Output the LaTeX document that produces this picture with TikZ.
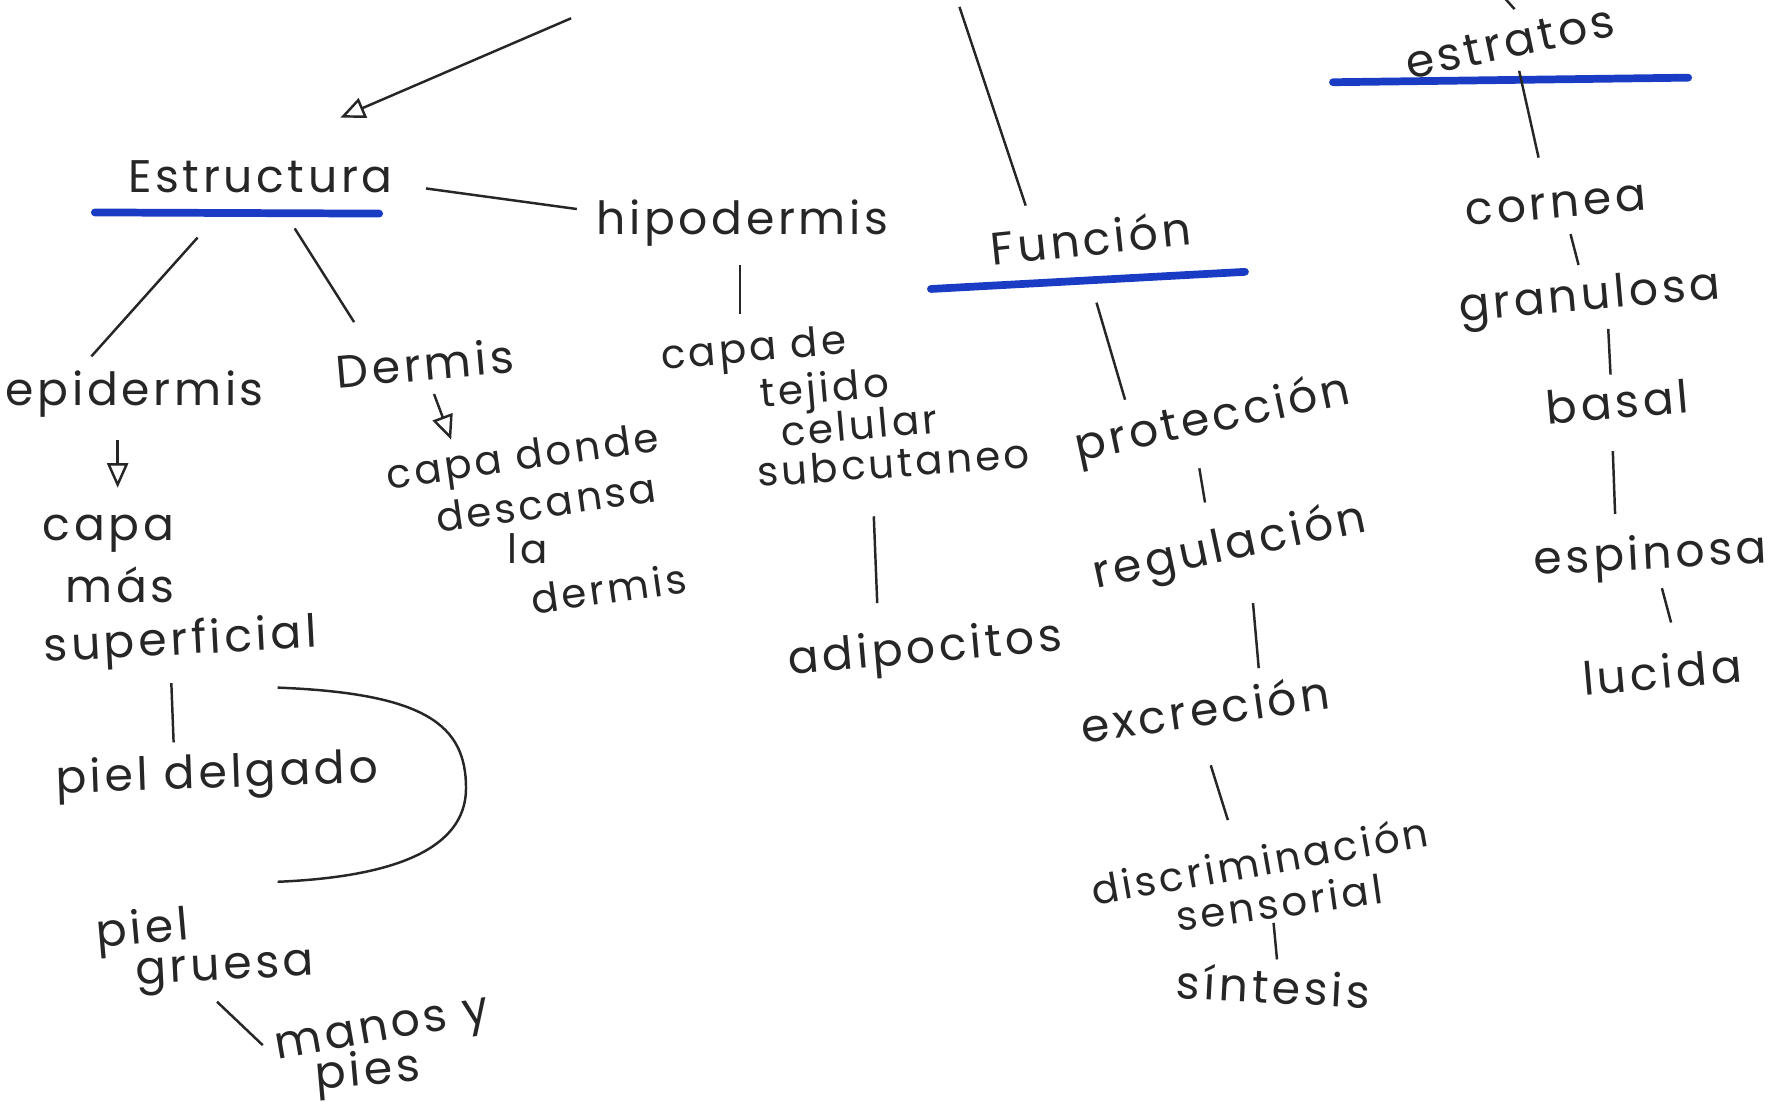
\documentclass[tikz,border=0pt]{standalone}
\usepackage{fontspec}
\setmainfont{Poppins}[LetterSpace=8]
\usetikzlibrary{calc,arrows.meta}
\definecolor{pen}{RGB}{38,38,38}
\definecolor{marker}{RGB}{26,60,196}
\tikzset{>={Triangle[open,length=7pt,width=6pt]}}
\tikzset{word/.style={text=pen,font=\fontsize{13}{15}\selectfont,inner sep=1pt},
  small/.style={word,font=\fontsize{11.5}{13}\selectfont},
  link/.style={draw=pen,line width=.7pt},
  under/.style={draw=marker,line width=2.2pt,line cap=round}}

\begin{document}
\begin{tikzpicture}[x=0.011422cm,y=-0.011422cm]
\useasboundingbox[fill=white] (0,0) rectangle (1568,964);
\coordinate (topA) at (500,16);
\coordinate (topF) at (840,6);
\coordinate (topE) at (1317,-2);
\node[word] (estr) at (228,155) {Estructura};
\node[word] (hipo) at (650,195) {hipodermis};
\node[word,rotate=6] (func) at (955,208) {Función};
\node[word,rotate=12] (estra) at (1322,37) {estratos};
\node[word,rotate=5] (cornea) at (1362,180) {cornea};
\node[word,rotate=5] (granu) at (1392,262) {granulosa};
\node[word,rotate=5] (basal) at (1416,352) {basal};
\node[word,rotate=3] (espin) at (1445,488) {espinosa};
\node[word,rotate=5] (lucida) at (1455,588) {lucida};
\node[word] (epid) at (118,345) {epidermis};
\node[word] (ep1) at (95,467) {capa};
\node[word] (ep2) at (105,512) {más};
\node[word,rotate=3] (ep3) at (158,563) {superficial};
\node[word,rotate=2] (delg) at (190,680) {piel delgado};
\node[word,rotate=5] (gr1) at (125,816) {piel};
\node[word,rotate=3] (gr2) at (197,852) {gruesa};
\node[word,rotate=10] (mp1) at (335,905) {manos y};
\node[word,rotate=5] (mp2) at (322,940) {pies};
\node[word,rotate=5] (dermis) at (372,318) {Dermis};
\node[small,rotate=8] (dn1) at (458,403) {capa donde};
\node[small,rotate=8] (dn2) at (478,440) {descansa};
\node[small] (dn3) at (462,480) {la};
\node[small,rotate=8] (dn4) at (533,515) {dermis};
\node[small,rotate=5] (hp1) at (660,308) {capa de};
\node[small,rotate=5] (hp2) at (722,343) {tejido};
\node[small,rotate=5] (hp3) at (752,372) {celular};
\node[small,rotate=4] (hp4) at (782,405) {subcutaneo};
\node[word,rotate=5] (adip) at (810,570) {adipocitos};
\node[word,rotate=12] (prot) at (1062,368) {protección};
\node[word,rotate=12] (regu) at (1077,480) {regulación};
\node[word,rotate=8] (excr) at (1055,620) {excreción};
\node[small,rotate=10] (ds1) at (1103,753) {discriminación};
\node[small,rotate=8] (ds2) at (1120,790) {sensorial};
\node[word,rotate=-3] (sint) at (1115,863) {síntesis};
\draw[under] ([shift={(-145,31)}]estr.center) -- ([shift={(104,32)}]estr.center);
\draw[under] ([shift={(-140,45)}]func.center) -- ([shift={(135,30)}]func.center);
\draw[under] ([shift={(-155,35)}]estra.center) -- ([shift={(156,31)}]estra.center);
\draw[link,->] (topA) -- ([shift={(70,-52)}]estr.center);
\draw[link] ([shift={(145,10)}]estr.center) -- ([shift={(-145,-12)}]hipo.center);
\draw[link] ([shift={(-55,53)}]estr.center) -- ([shift={(-38,-33)}]epid.center);
\draw[link] ([shift={(30,45)}]estr.center) -- ([shift={(-62,-36)}]dermis.center);
\draw[link,->] ([shift={(-15,40)}]epid.center) -- ([shift={(8,-40)}]ep1.center);
\draw[link,->] ([shift={(8,27)}]dermis.center) -- ([shift={(-63,-18)}]dn1.center);
\draw[link] ([shift={(-8,35)}]ep3.center) -- ([shift={(-38,-30)}]delg.center);
\draw[link] ([shift={(53,-78)}]delg.center) .. controls +(130,5) and +(0,-55) .. ([shift={(218,10)}]delg.center)
  .. controls +(0,45) and +(120,-5) .. ([shift={(53,92)}]delg.center);
\draw[link] ([shift={(-7,25)}]gr2.center) -- ([shift={(-105,10)}]mp1.center);
\draw[link] ([shift={(-2,37)}]hipo.center) -- ([shift={(-12,-33)}]hp1.center);
\draw[link] ([shift={(-17,47)}]hp4.center) -- ([shift={(-42,-42)}]adip.center);
\draw[link] (topF) -- ([shift={(-57,-28)}]func.center);
\draw[link] ([shift={(5,57)}]func.center) -- ([shift={(-77,-18)}]prot.center);
\draw[link] ([shift={(-12,42)}]prot.center) -- ([shift={(-22,-40)}]regu.center);
\draw[link] ([shift={(20,48)}]regu.center) -- ([shift={(47,-35)}]excr.center);
\draw[link] ([shift={(5,50)}]excr.center) -- ([shift={(-28,-35)}]ds1.center);
\draw[link] ([shift={(-5,18)}]ds2.center) -- ([shift={(3,-23)}]sint.center);
\draw[link] (topE) -- ([shift={(4,-29)}]estra.center);
\draw[link] ([shift={(8,25)}]estra.center) -- ([shift={(-15,-42)}]cornea.center);
\draw[link] ([shift={(13,25)}]cornea.center) -- ([shift={(-10,-30)}]granu.center);
\draw[link] ([shift={(16,26)}]granu.center) -- ([shift={(-6,-24)}]basal.center);
\draw[link] ([shift={(-4,43)}]basal.center) -- ([shift={(-31,-38)}]espin.center);
\draw[link] ([shift={(10,27)}]espin.center) -- ([shift={(8,-43)}]lucida.center);
\end{tikzpicture}
\end{document}
